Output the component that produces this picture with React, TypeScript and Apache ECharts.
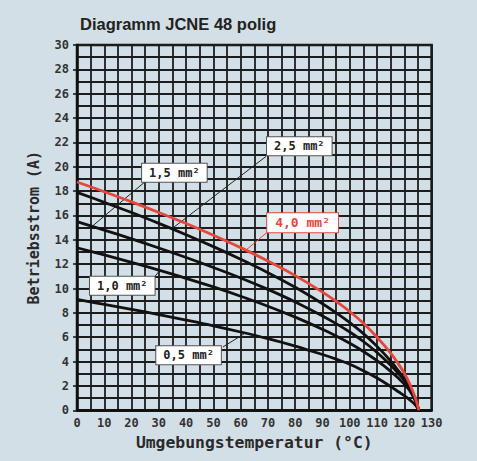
import React, { useEffect, useRef } from "react";
import * as echarts from "echarts";

// Ambient temperature (°C)
const temps = [0, 10, 20, 30, 40, 50, 60, 70, 80, 90, 95, 100, 105, 110, 115, 118, 120, 122, 124, 125.3];
// Operating current (A) per conductor cross-section
const cur40 = [18.75, 17.95, 17.12, 16.25, 15.34, 14.38, 13.36, 12.26, 11.06, 9.71, 8.94, 8.1, 7.15, 6.0, 4.7, 3.75, 3.05, 2.15, 1.05, 0];
const cur25 = [17.9, 17.08, 16.24, 15.35, 14.42, 13.44, 12.4, 11.3, 10.1, 8.75, 8.0, 7.2, 6.3, 5.25, 4.05, 3.2, 2.6, 1.85, 0.9, 0];
const cur15 = [15.5, 14.8, 14.08, 13.33, 12.55, 11.73, 10.87, 9.93, 8.9, 7.75, 7.12, 6.43, 5.65, 4.75, 3.7, 2.98, 2.45, 1.78, 0.9, 0];
const cur10 = [13.35, 12.76, 12.15, 11.51, 10.84, 10.13, 9.37, 8.55, 7.65, 6.65, 6.1, 5.5, 4.83, 4.07, 3.2, 2.6, 2.15, 1.6, 0.8, 0];
const cur05 = [9.1, 8.7, 8.29, 7.86, 7.41, 6.94, 6.43, 5.88, 5.27, 4.58, 4.2, 3.78, 3.25, 2.65, 1.95, 1.5, 1.2, 0.85, 0.45, 0];

const seriesNames = ["0,5 mm²", "1,0 mm²", "1,5 mm²", "2,5 mm²", "4,0 mm²"];

// annotation boxes: [x, y] centre in data units
const boxPos: number[][] = [
  [40.9, 4.52],
  [16.6, 10.23],
  [35.7, 19.5],
  [81.5, 21.68],
  [82.7, 15.4],
];
// leader lines: [[x1, y1], [x2, y2]] in data units
const leaders: number[][][] = [
  [[53.5, 5.2], [61.6, 6.33]],
  [[28.6, 11.0], [30.4, 11.5]],
  [[24.9, 18.76], [5.5, 15.1]],
  [[69.3, 20.85], [35.3, 15.0]],
  [[69.6, 14.6], [62.2, 13.2]],
];

const RED = "#e4473c";
const INK = "#1c1c1c";
const MONO = "DejaVu Sans Mono";

export default function App() {
  const ref = useRef<HTMLDivElement>(null);
  useEffect(() => {
    document.body.style.margin = "0";
    const chart = echarts.init(ref.current!, null, { renderer: "svg" });
    const all = [cur05, cur10, cur15, cur25, cur40];
    const series = all.map((vals, i) => {
      const isRed = i === 4;
      const color = isRed ? RED : "#111";
      return {
        type: "line",
        name: seriesNames[i],
        data: temps.map((t, k) => [t, vals[k]]),
        showSymbol: false,
        symbol: "none",
        smooth: 0.4,
        z: isRed ? 5 : 3,
        lineStyle: { color, width: 2.8 },
        markLine: {
          silent: true,
          symbol: ["none", "none"],
          label: { show: false },
          lineStyle: { color: isRed ? RED : "#222", width: 1, type: "solid" },
          data: [[{ coord: leaders[i][0] }, { coord: leaders[i][1] }]],
        },
        markPoint: {
          silent: true,
          symbol: "rect",
          symbolSize: 1,
          itemStyle: { color: "rgba(0,0,0,0)" },
          data: [{ coord: boxPos[i], name: seriesNames[i] }],
          label: {
            show: true,
            position: "inside",
            formatter: seriesNames[i],
            fontFamily: MONO,
            fontWeight: "bold",
            fontSize: isRed ? 13 : 12,
            color: isRed ? RED : "#222",
            backgroundColor: "#ffffff",
            borderColor: isRed ? RED : "#555",
            borderWidth: 1,
            padding: isRed ? [3, 8, 3, 8] : [3, 7, 3, 7],
          },
        },
      };
    });
    chart.setOption({
      animation: false,
      backgroundColor: "#d3dfe6",
      title: {
        text: "Diagramm JCNE 48 polig",
        left: 80,
        top: 15,
        padding: 0,
        textStyle: { fontFamily: "Liberation Sans", fontWeight: "bold", fontSize: 16.5, color: "#222" },
      },
      grid: {
        left: 77,
        top: 45,
        width: 354.6,
        height: 365.3,
        show: true,
        borderColor: "#111",
        borderWidth: 2.5,
        backgroundColor: "transparent",
      },
      xAxis: {
        type: "value",
        min: 0,
        max: 130,
        interval: 5,
        name: "Umgebungstemperatur (°C)",
        nameLocation: "middle",
        nameGap: 22,
        nameTextStyle: { fontFamily: MONO, fontWeight: "bold", fontSize: 16.4, color: "#2a2a2a" },
        axisLine: { show: true, lineStyle: { color: "#111", width: 2.5 } },
        axisTick: { show: false },
        axisLabel: {
          formatter: (v: number) => (v % 10 === 0 ? String(v) : ""),
          fontFamily: MONO,
          fontWeight: "bold",
          fontSize: 12,
          color: "#333",
          margin: 7,
        },
        splitLine: { show: true, lineStyle: { color: INK, width: 1.8 } },
      },
      yAxis: [
        {
          type: "value",
          min: 0,
          max: 30,
          interval: 1,
          axisLine: { show: true, lineStyle: { color: "#111", width: 2.5 } },
          axisTick: { show: false },
          axisLabel: { show: false },
          splitLine: { show: true, lineStyle: { color: INK, width: 1.8 } },
        },
        {
          type: "value",
          min: 0,
          max: 30,
          interval: 2,
          position: "left",
          name: "Betriebsstrom (A)",
          nameLocation: "middle",
          nameGap: 36,
          nameTextStyle: { fontFamily: MONO, fontWeight: "bold", fontSize: 15, color: "#2a2a2a" },
          axisLine: { show: false },
          axisTick: { show: true, length: 4, lineStyle: { color: "#111", width: 1.5 } },
          axisLabel: { fontFamily: MONO, fontWeight: "bold", fontSize: 12, color: "#333", margin: 8 },
          splitLine: { show: false },
        },
      ],
      series,
    });
    return () => chart.dispose();
  }, []);
  return <div ref={ref} style={{ width: 477, height: 461 }} />;
}
